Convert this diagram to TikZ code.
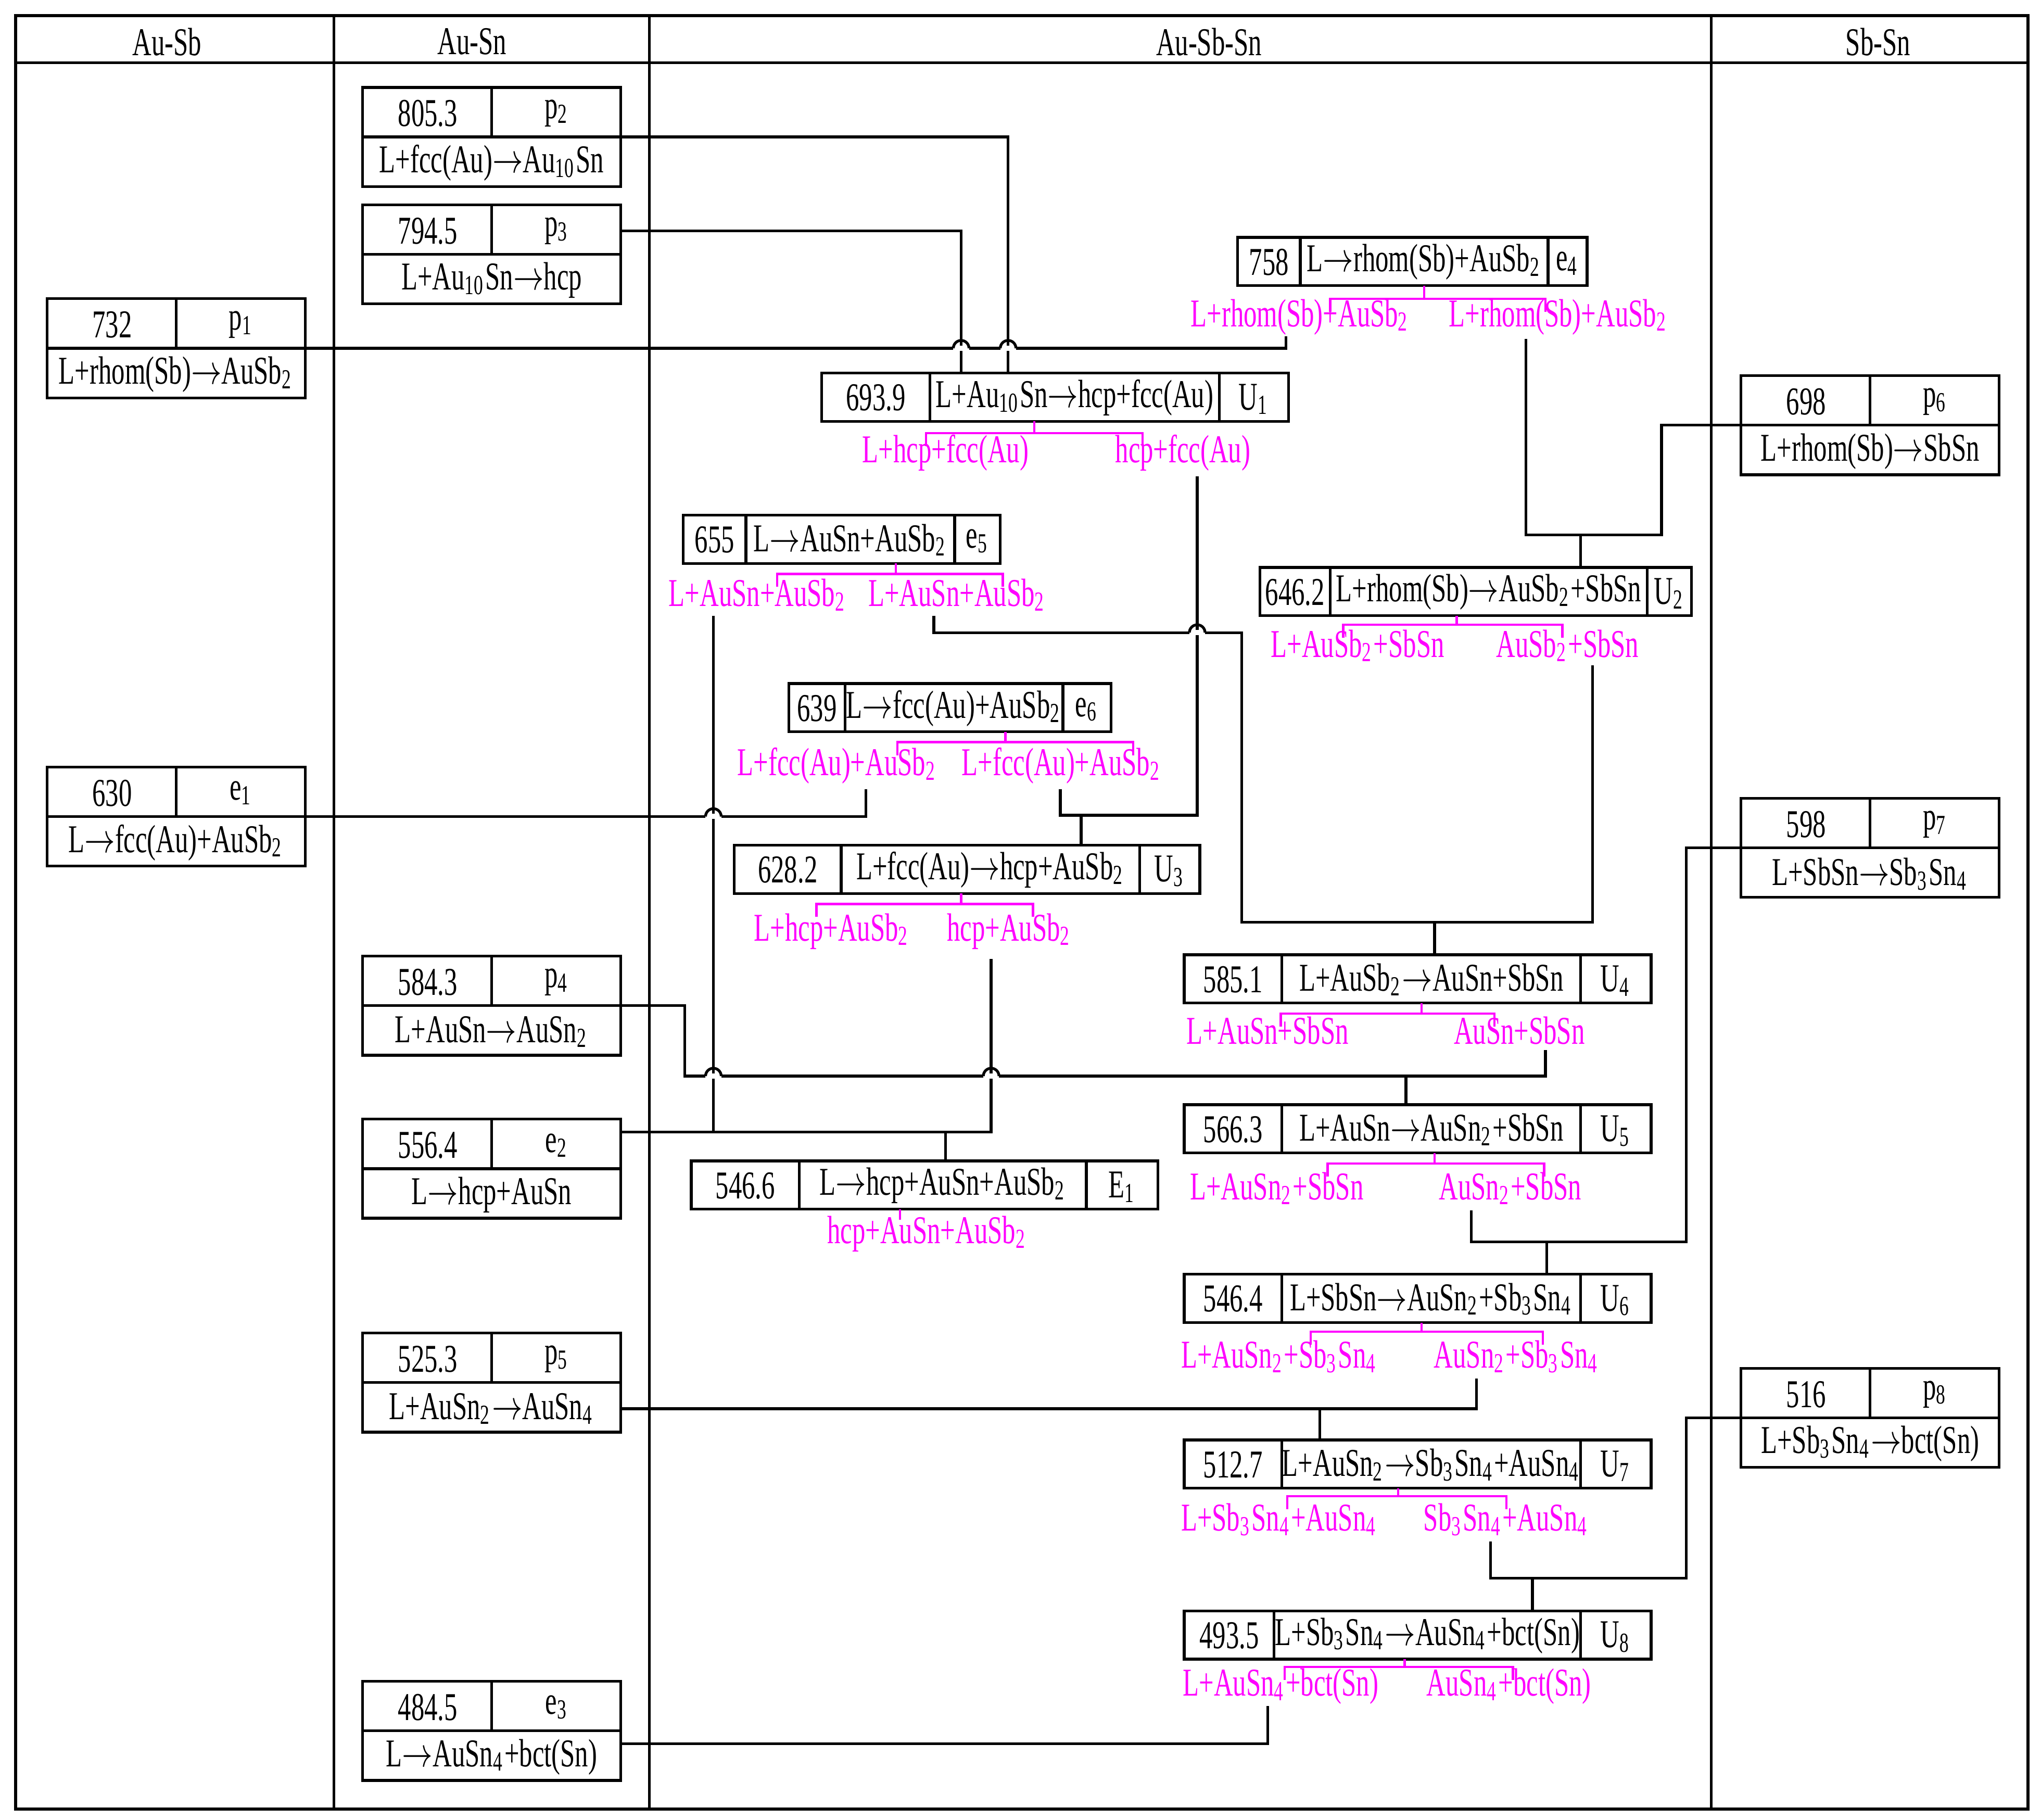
\documentclass[tikz,border=0pt]{standalone}
\usepackage{fontspec}
\usepackage{graphicx}
\setmainfont{Liberation Serif}[FakeStretch=0.67]
\definecolor{pinkc}{RGB}{255,0,255}
\newcommand\ds[1]{\textsubscript{#1}}
\begingroup\catcode`\→=\active \gdef→{\scalebox{0.72}[1]{$\rightarrow$}}\endgroup
\catcode`\→=\active
\begin{document}
\begin{tikzpicture}[x=0.1mm,y=-0.1mm,
  bx/.style={line width=0.6pt,black},
  ln/.style={line width=0.6pt,black},
  pkl/.style={line width=0.5pt,pinkc},
  txt/.style={font=\fontsize{8.6}{9}\selectfont,inner sep=0pt},
  pk/.style={txt,text=pinkc}]
\useasboundingbox (0,0) rectangle (1565,1395);
\fill[white] (0,0) rectangle (1565,1395);
% frame
\draw[bx] (12,12) rectangle (1555,1387);
\draw[bx] (12,48) -- (1555,48);
\foreach \xx in {256,498,1312} \draw[bx] (\xx,12) -- (\xx,1387);
\node[txt] (h1) at (128,32) {Au-Sb};
\node[txt] (h2) at (362,32) {Au-Sn};
\node[txt] (h3) at (927,32) {Au-Sb-Sn};
\node[txt] (h4) at (1440,32) {Sb-Sn};
% binary boxes
\newcommand\bbox[6]{%
 \draw[bx] (#2,#3) rectangle ++(198,76);
 \draw[bx] (#2,#3+38) -- ++(198,0) (#2+99,#3) -- ++(0,38);
 \node[txt] (#1n) at (#2+50,#3+20) {#4};
 \node[txt] (#1l) at (#2+149,#3+20) {#5};
 \node[txt] (#1r) at (#2+99,#3+58) {#6};
 \coordinate (#1L) at (#2,#3+38);
 \coordinate (#1R) at (#2+198,#3+38);}
\bbox{p2}{278}{67}{805.3}{p\ds{2}}{L+fcc(Au)→Au\ds{10}Sn}
\bbox{p3}{278}{157}{794.5}{p\ds{3}}{L+Au\ds{10}Sn→hcp}
\bbox{p1}{36}{229}{732}{p\ds{1}}{L+rhom(Sb)→AuSb\ds{2}}
\bbox{e1}{36}{588}{630}{e\ds{1}}{L→fcc(Au)+AuSb\ds{2}}
\bbox{p4}{278}{733}{584.3}{p\ds{4}}{L+AuSn→AuSn\ds{2}}
\bbox{e2}{278}{858}{556.4}{e\ds{2}}{L→hcp+AuSn}
\bbox{p5}{278}{1022}{525.3}{p\ds{5}}{L+AuSn\ds{2}→AuSn\ds{4}}
\bbox{e3}{278}{1289}{484.5}{e\ds{3}}{L→AuSn\ds{4}+bct(Sn)}
\bbox{p6}{1335}{288}{698}{p\ds{6}}{L+rhom(Sb)→SbSn}
\bbox{p7}{1335}{612}{598}{p\ds{7}}{L+SbSn→Sb\ds{3}Sn\ds{4}}
\bbox{p8}{1335}{1049}{516}{p\ds{8}}{L+Sb\ds{3}Sn\ds{4}→bct(Sn)}
% ternary boxes: name x1 s1 s2 x2 y num reaction label
\newcommand\tbox[9]{%
 \draw[bx] (#2,#6) rectangle (#5,#6+37);
 \draw[bx] (#3,#6) -- (#3,#6+37) (#4,#6) -- (#4,#6+37);
 \node[txt] (#1n) at ({(#2+#3)/2},#6+19) {#7};
 \node[txt] (#1r) at ({(#3+#4)/2},#6+19) {#8};
 \node[txt] (#1l) at ({(#4+#5)/2},#6+20) {#9};}
\tbox{e4}{949}{997}{1187}{1217}{182}{758}{L→rhom(Sb)+AuSb\ds{2}}{e\ds{4}}
\tbox{U1}{630}{713}{935}{988}{286}{693.9}{L+Au\ds{10}Sn→hcp+fcc(Au)}{U\ds{1}}
\tbox{e5}{524}{572}{732}{767}{395}{655}{L→AuSn+AuSb\ds{2}}{e\ds{5}}
\tbox{U2}{966}{1020}{1263}{1297}{435}{646.2}{L+rhom(Sb)→AuSb\ds{2}+SbSn}{U\ds{2}}
\tbox{e6}{605}{648}{815}{852}{524}{639}{L→fcc(Au)+AuSb\ds{2}}{e\ds{6}}
\tbox{U3}{563}{645}{874}{920}{648}{628.2}{L+fcc(Au)→hcp+AuSb\ds{2}}{U\ds{3}}
\tbox{U4}{908}{983}{1212}{1266}{732}{585.1}{L+AuSb\ds{2}→AuSn+SbSn}{U\ds{4}}
\tbox{U5}{908}{983}{1212}{1266}{847}{566.3}{L+AuSn→AuSn\ds{2}+SbSn}{U\ds{5}}
\tbox{E1}{530}{613}{833}{888}{890}{546.6}{L→hcp+AuSn+AuSb\ds{2}}{E\ds{1}}
\tbox{U6}{908}{983}{1212}{1266}{977}{546.4}{L+SbSn→AuSn\ds{2}+Sb\ds{3}Sn\ds{4}}{U\ds{6}}
\tbox{U7}{908}{983}{1212}{1266}{1104}{512.7}{L+AuSn\ds{2}→Sb\ds{3}Sn\ds{4}+AuSn\ds{4}}{U\ds{7}}
\tbox{U8}{908}{977}{1212}{1266}{1235}{493.5}{L+Sb\ds{3}Sn\ds{4}→AuSn\ds{4}+bct(Sn)}{U\ds{8}}
% pink brackets: stemx ytop ylevel x1 x2
\newcommand\brk[5]{\draw[pkl] (#1,#2) -- (#1,#3) (#4,#3+10) -- (#4,#3) -- (#5,#3) -- (#5,#3+10);}
\brk{1092}{219}{229}{1020}{1185}
\brk{793}{323}{332}{710}{876}
\brk{687}{432}{440}{596}{769}
\brk{1117}{472}{479}{1030}{1198}
\brk{771}{561}{569}{688}{869}
\brk{737}{685}{693}{626}{792}
\brk{1090}{769}{777}{982}{1146}
\brk{1100}{884}{892}{1018}{1184}
\brk{1090}{1014}{1021}{1005}{1183}
\brk{1072}{1141}{1147}{987}{1155}
\brk{1077}{1272}{1278}{985}{1160}
\draw[pkl] (690,927) -- (690,935);
% pink labels
\node[pk] (e4a) at (997,243) {L+rhom(Sb)+AuSb\ds{2}};
\node[pk] (e4b) at (1195,243) {L+rhom(Sb)+AuSb\ds{2}};
\node[pk] (U1a) at (725,347) {L+hcp+fcc(Au)};
\node[pk] (U1b) at (907,347) {hcp+fcc(Au)};
\node[pk] (e5a) at (581,456) {L+AuSn+AuSb\ds{2}};
\node[pk] (e5b) at (734,456) {L+AuSn+AuSb\ds{2}};
\node[pk] (U2a) at (1041,495) {L+AuSb\ds{2}+SbSn};
\node[pk] (U2b) at (1202,495) {AuSb\ds{2}+SbSn};
\node[pk] (e6a) at (642,587) {L+fcc(Au)+AuSb\ds{2}};
\node[pk] (e6b) at (814,587) {L+fcc(Au)+AuSb\ds{2}};
\node[pk] (U3a) at (638,714) {L+hcp+AuSb\ds{2}};
\node[pk] (U3b) at (774,714) {hcp+AuSb\ds{2}};
\node[pk] (U4a) at (972,790) {L+AuSn+SbSn};
\node[pk] (U4b) at (1165,790) {AuSn+SbSn};
\node[pk] (U5a) at (979,911) {L+AuSn\ds{2}+SbSn};
\node[pk] (U5b) at (1158,911) {AuSn\ds{2}+SbSn};
\node[pk] (E1a) at (711,946) {hcp+AuSn+AuSb\ds{2}};
\node[pk] (U6a) at (981,1040) {L+AuSn\ds{2}+Sb\ds{3}Sn\ds{4}};
\node[pk] (U6b) at (1163,1040) {AuSn\ds{2}+Sb\ds{3}Sn\ds{4}};
\node[pk] (U7a) at (981,1165) {L+Sb\ds{3}Sn\ds{4}+AuSn\ds{4}};
\node[pk] (U7b) at (1155,1165) {Sb\ds{3}Sn\ds{4}+AuSn\ds{4}};
\node[pk] (U8a) at (982,1293) {L+AuSn\ds{4}+bct(Sn)};
\node[pk] (U8b) at (1157,1293) {AuSn\ds{4}+bct(Sn)};
% hops
\newcommand\hop[2]{\fill[white] (#1-6,#2-2) rectangle (#1+6,#2+2);
  \draw[ln] (#1-6,#2) arc (180:360:6);}
% connectors
\draw[ln] (p2R) -- (773,105) -- (773,286);
\draw[ln] (p3R) ++(0,-18) -- (737,177) -- (737,286);
\draw[ln] (p1R) -- (986,267) -- (986,258);
\hop{737}{267}\hop{773}{267}
\draw[ln] (1170,260) -- (1170,410) -- (1274,410) -- (1274,326) -- (p6L);
\draw[ln] (1212,410) -- (1212,435);
\draw[ln] (918,365) -- (918,625) -- (813,625) -- (813,605);
\draw[ln] (829,625) -- (829,648);
\draw[ln] (664,605) -- (664,626) -- (e1R);
\draw[ln] (716,472) -- (716,485) -- (952,485) -- (952,707) -- (1221,707) -- (1221,510);
\draw[ln] (1100,707) -- (1100,732);
\hop{918}{485}
\draw[ln] (547,472) -- (547,868);
\draw[ln] (e2R) ++(0,-28) -- (760,868) -- (760,735);
\draw[ln] (725,868) -- (725,890);
\hop{547}{626}
\draw[ln] (p4R) -- (525,771) -- (525,825) -- (1185,825) -- (1185,805);
\draw[ln] (1078,825) -- (1078,847);
\hop{547}{825}\hop{760}{825}
\draw[ln] (1128,928) -- (1128,952) -- (1293,952) -- (1293,650) -- (p7L);
\draw[ln] (1186,952) -- (1186,977);
\draw[ln] (1132,1057) -- (1132,1080) -- (476,1080);
\draw[ln] (1012,1080) -- (1012,1104);
\draw[ln] (1143,1182) -- (1143,1210) -- (1293,1210) -- (1293,1087) -- (p8L);
\draw[ln] (1175,1210) -- (1175,1235);
\draw[ln] (972,1308) -- (972,1337) -- (476,1337);
\end{tikzpicture}
\end{document}
